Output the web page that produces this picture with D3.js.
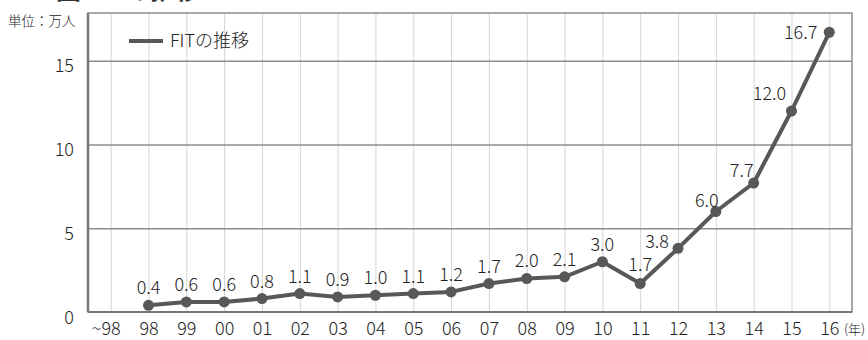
<!DOCTYPE html>
<html>
<head>
<meta charset="utf-8">
<script src="https://cdn.jsdelivr.net/npm/d3@7"></script>
<style>
  html, body { margin: 0; padding: 0; background: #fff; }
  svg { display: block; font-family: "Noto Sans CJK JP", "Noto Sans", sans-serif; font-weight: 300; }
</style>
</head>
<body>
<svg id="chart" width="868" height="340"></svg>
<script>
// 年（1998年以前〜2016年）
const categories = ["~98", "98", "99", "00", "01", "02", "03", "04", "05", "06",
                    "07", "08", "09", "10", "11", "12", "13", "14", "15", "16"];
// FIT（単位：万人）
const fitValues = [null, 0.4, 0.6, 0.6, 0.8, 1.1, 0.9, 1.0, 1.1, 1.2,
                   1.7, 2.0, 2.1, 3.0, 1.7, 3.8, 6.0, 7.7, 12.0, 16.7];
const yTicks = [0, 5, 10, 15];
const seriesName = "FITの推移";
const titleText = "図 FITの推移";
const unitText = "単位：万人";
const yearUnit = "(年)";

const svg = d3.select("#chart");
const plotLeft = 88, plotRight = 852, plotTop = 13, plotBottom = 312;
const fontFamily = "'Noto Sans CJK JP', sans-serif";

const x = d3.scalePoint().domain(categories).range([plotLeft, plotRight]).padding(0.6);
const y = d3.scaleLinear().domain([0, 17.85]).range([plotBottom, plotTop]);

// title, mostly above the page edge
svg.append("text")
  .attr("x", 56).attr("y", -1)
  .attr("font-size", 25).attr("font-weight", "bold").attr("fill", "#333")
  .text(titleText);

// vertical grid
const xGrid = svg.append("g")
  .attr("transform", `translate(0,${plotBottom})`)
  .call(d3.axisBottom(x).tickSize(-(plotBottom - plotTop)).tickFormat(""));
xGrid.select(".domain").remove();
xGrid.selectAll("line").attr("stroke", "#d4d4d4").attr("stroke-width", 1);

// horizontal grid
const yGrid = svg.append("g")
  .attr("transform", `translate(${plotLeft},0)`)
  .call(d3.axisLeft(y).tickValues(yTicks.filter(v => v > 0)).tickSize(-(plotRight - plotLeft)).tickFormat(""));
yGrid.select(".domain").remove();
yGrid.selectAll("line").attr("stroke", "#8c8c8c").attr("stroke-width", 1.5);

// frame
svg.append("rect")
  .attr("x", plotLeft).attr("y", plotTop)
  .attr("width", plotRight - plotLeft).attr("height", plotBottom - plotTop)
  .attr("fill", "none").attr("stroke", "#8c8c8c").attr("stroke-width", 1.5);
svg.append("line")
  .attr("x1", plotLeft).attr("x2", plotLeft).attr("y1", plotTop).attr("y2", plotBottom)
  .attr("stroke", "#777").attr("stroke-width", 2.5);
svg.append("line")
  .attr("x1", plotLeft).attr("x2", plotRight).attr("y1", plotBottom).attr("y2", plotBottom)
  .attr("stroke", "#777").attr("stroke-width", 2);

// y tick labels
const yAxis = svg.append("g")
  .attr("transform", `translate(${plotLeft},0)`)
  .call(d3.axisLeft(y).tickValues(yTicks).tickSize(0).tickPadding(14));
yAxis.select(".domain").remove();
yAxis.selectAll("text")
  .attr("font-family", fontFamily).attr("font-weight", 300)
  .attr("font-size", 18).attr("fill", "#222").attr("dy", "0.62em");

// x tick labels
const xAxis = svg.append("g")
  .attr("transform", `translate(0,${plotBottom})`)
  .call(d3.axisBottom(x).tickSize(0).tickPadding(10));
xAxis.select(".domain").remove();
xAxis.selectAll("text")
  .attr("font-family", fontFamily).attr("font-weight", 300)
  .attr("font-size", 18).attr("fill", "#222").attr("dy", "0.72em")
  .attr("dx", d => d.startsWith("~") ? -5 : 0);

svg.append("text")
  .attr("x", 844).attr("y", 334)
  .attr("font-size", 13).attr("fill", "#222")
  .text(yearUnit);

svg.append("text")
  .attr("x", 8).attr("y", 26)
  .attr("font-size", 13.5).attr("fill", "#222")
  .text(unitText);

// series
const pts = categories.map((c, i) => ({ c, v: fitValues[i] })).filter(d => d.v != null);
const lineColor = "#585858";

svg.append("path")
  .datum(pts)
  .attr("fill", "none").attr("stroke", lineColor).attr("stroke-width", 4)
  .attr("stroke-linejoin", "round")
  .attr("d", d3.line().x(d => x(d.c)).y(d => y(d.v)));

svg.selectAll("circle.pt").data(pts).join("circle")
  .attr("class", "pt")
  .attr("cx", d => x(d.c)).attr("cy", d => y(d.v)).attr("r", 5.5)
  .attr("fill", lineColor);

// value labels: above each point, shifted left on the steep part
const labelShift = {
  "11": { dx: 0, dy: -13, anchor: "middle" },
  "12": { dx: -21, dy: 0, anchor: "middle" },
  "13": { dx: -9, dy: -4, anchor: "middle" },
  "14": { dx: -12, dy: -6, anchor: "middle" },
  "15": { dx: -22, dy: -11, anchor: "middle" },
  "16": { dx: -12, dy: 7, anchor: "end" }
};
svg.selectAll("text.val").data(pts).join("text")
  .attr("class", "val")
  .attr("x", d => x(d.c) + (labelShift[d.c] ? labelShift[d.c].dx : 0))
  .attr("y", d => y(d.v) + (labelShift[d.c] ? labelShift[d.c].dy : -11))
  .attr("text-anchor", d => labelShift[d.c] ? labelShift[d.c].anchor : "middle")
  .attr("font-size", 18).attr("fill", "#222")
  .text(d => d.v.toFixed(1));

// legend
svg.append("line")
  .attr("x1", 129).attr("x2", 163).attr("y1", 41).attr("y2", 41)
  .attr("stroke", lineColor).attr("stroke-width", 4);
svg.append("text")
  .attr("x", 170).attr("y", 47)
  .attr("font-size", 18).attr("fill", "#222")
  .text(seriesName);
</script>
</body>
</html>
